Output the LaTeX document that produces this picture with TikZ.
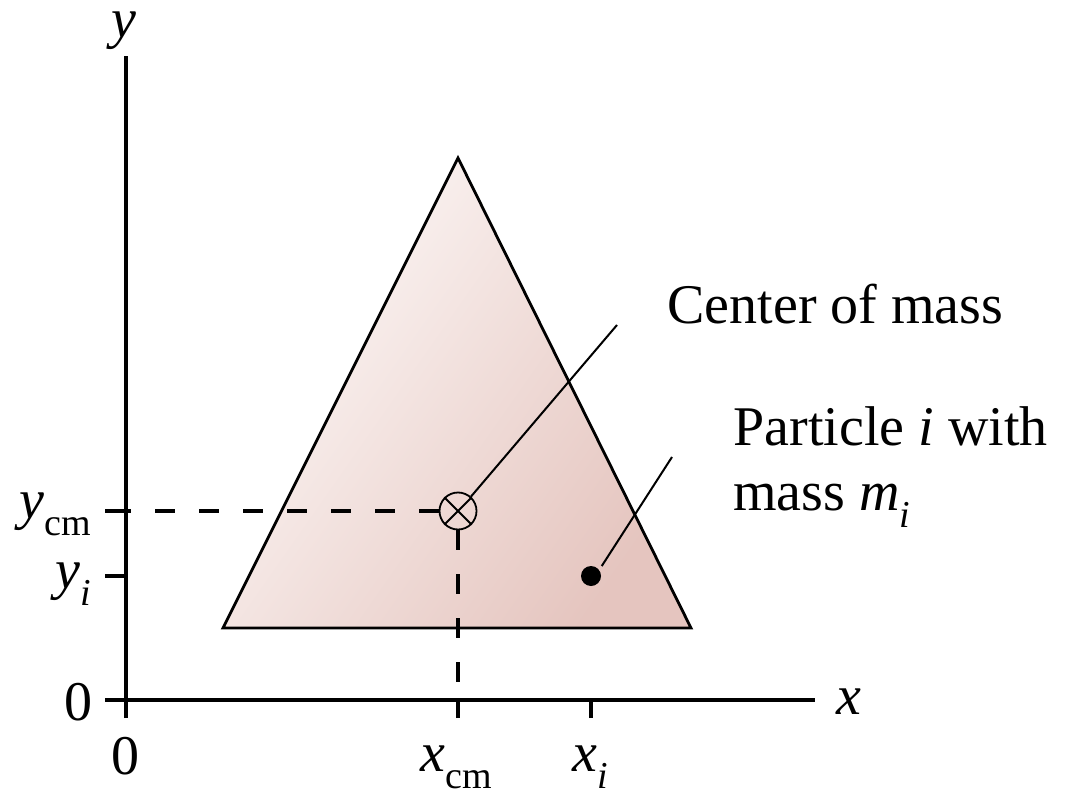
\documentclass[tikz,border=0pt]{standalone}
\usepackage{fontspec}
\setmainfont{Liberation Serif}
\usepackage{tikz}
\usetikzlibrary{positioning,calc}
\definecolor{pinklite}{RGB}{253,249,248}
\definecolor{pinkdeep}{RGB}{229,197,191}
\newcommand{\lowsub}[1]{\raisebox{-0.32em}{\fontsize{19}{19}\selectfont #1}}

\begin{document}
\begin{tikzpicture}[x=0.5pt, y=-0.5pt,
  axis/.style={line width=2pt},
  guide/.style={line width=1.8pt, dash pattern=on 10pt off 12pt},
  lead/.style={line width=1pt},
  lbl/.style={inner sep=0pt, font=\fontsize{28}{32.5}\selectfont}]
  \useasboundingbox (0,0) rectangle (1074,796);
  % body
  \coordinate (apex) at (458,158);
  \coordinate (bl) at (223,628);
  \coordinate (br) at (691,628);
  \draw[line width=1.4pt, line join=miter, top color=pinklite, bottom color=pinkdeep,
        shading angle=55] (apex) -- (br) -- (bl) -- cycle;
  % axes
  \coordinate (org) at (126,700);
  \coordinate (ytop) at (126,56);
  \coordinate (ybot) at (126,718);
  \coordinate (xleft) at (105,700);
  \coordinate (xright) at (815,700);
  \draw[axis] (ybot) -- (ytop);
  \draw[axis] (xleft) -- (xright);
  \node[lbl, anchor=base] (ylab) at (124,38) {\textit{y}};
  \node[lbl, anchor=west] (xlab) at (836,702) {\textit{x}};
  \node[lbl, anchor=east] (zeroy) at (93,702) {0};
  \node[lbl] (zerox) at (125,756) {0};
  % ticks
  \coordinate (tycm) at (105,511);
  \coordinate (tyi) at (105,576);
  \coordinate (txcm) at (458,718);
  \coordinate (txi) at (591,718);
  \draw[axis] (tycm) -- (tycm -| org);
  \draw[axis] (tyi) -- (tyi -| org);
  \draw[axis] (txcm) -- (txcm |- org);
  \draw[axis] (txi) -- (txi |- org);
  \node[lbl, anchor=base east] (ycm) at (91,518) {\textit{y}\lowsub{cm}};
  \node[lbl, anchor=base east] (yi) at (91,588) {\textit{y}\lowsub{\textit{i}}};
  \node[lbl, anchor=base] (xcm) at (456,771) {\textit{x}\lowsub{cm}};
  \node[lbl, anchor=base] (xi) at (590,771) {\textit{x}\lowsub{\textit{i}}};
  % center of mass and particle
  \node[circle, draw, line width=0.9pt, minimum size=18.5pt, inner sep=0pt] (cm) at (458,511) {};
  \draw[line width=0.9pt] (cm.45) -- (cm.225) (cm.135) -- (cm.315);
  \node[circle, fill, minimum size=10pt, inner sep=0pt] (pt) at (591,576) {};
  \draw[guide] (cm.west) -- (cm.west -| org);
  \draw[guide] (cm.south) -- (cm.south |- org);
  % labels
  \node[lbl, anchor=base west] (comlab) at (667,323) {Center of mass};
  \node[lbl, anchor=base west, align=left] (ptlab) at (733,510) {Particle \textit{i} with\\mass \textit{m}\lowsub{\textit{i}}};
  \coordinate (comtip) at (617,325);
  \coordinate (pttip) at (672,457);
  \draw[lead] (cm.48) -- (comtip);
  \draw[lead] (pt.42) ++(3,-3) coordinate (ptfoot) (ptfoot) -- (pttip);
\end{tikzpicture}
\end{document}
